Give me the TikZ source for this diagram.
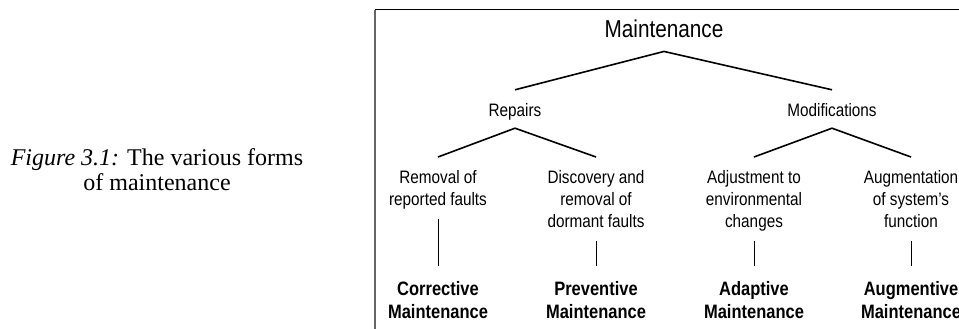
\documentclass[tikz,border=0pt]{standalone}
\usepackage{fontspec}
\setmainfont{Liberation Sans}[FakeStretch=0.85]
\newfontfamily\capfont{Liberation Serif}
\newcommand{\rs}{\rule[-4pt]{0pt}{17.5pt}}
\newcommand{\bs}{\rule[-4.5pt]{0pt}{19pt}}
\newcommand{\cs}{\rule{0pt}{17pt}}
\begin{document}
\begin{tikzpicture}[x=1pt,y=-1pt,
  rootnode/.style={inner sep=0pt,anchor=base,font={\fontsize{24.4}{27}\selectfont}},
  midnode/.style={inner sep=0pt,anchor=base,text height=13.5pt,text depth=4pt,font={\fontsize{18}{22}\selectfont}},
  leafnode/.style={inner sep=0pt,anchor=north,align=center,font={\fontsize{18}{22}\selectfont}},
  kindnode/.style={inner sep=0pt,anchor=north,align=center,font={\bfseries\fontsize{19.4}{23.5}\selectfont}},
  captext/.style={inner sep=0pt,anchor=north,align=center,font={\capfont\fontsize{24}{25}\selectfont}},
  branch/.style={line width=1.6pt},
  stem/.style={line width=1pt},
  frameline/.style={line width=1pt,black},
  frameside/.style={line width=1.8pt,black!60}]
\useasboundingbox (0,0) rectangle (959,329);

% caption
\node[captext] (caption) at (157,148) {\cs\textit{Figure 3.1:} The various forms\\ of maintenance};

% frame
\coordinate (fTL) at (375,10);
\coordinate (fTR) at (962,10);
\coordinate (fBL) at (375,332);
\draw[frameside] (fBL) -- (fTL);
\draw[frameline] (fTL) -- (fTR);

% tree
\node[rootnode] (maint) at (664,38) {Maintenance};
\node[midnode] (rep) at (515,116) {Repairs};
\node[midnode] (mod) at (832,116) {Modifications};

\node[leafnode] (l1) at (438,169.5) {\rs Removal of\\ reported faults\rs};
\node[leafnode] (l2) at (596,169.5) {\rs Discovery and\\ removal of\\ dormant faults\rs};
\node[leafnode] (l3) at (754,169.5) {\rs Adjustment to\\ environmental\\ changes\rs};
\node[leafnode] (l4) at (911,169.5) {\rs Augmentation\\ of system's\\ function\rs};

\node[kindnode] (k1) at (438,280.5) {\bs Corrective\\ Maintenance\bs};
\node[kindnode] (k2) at (596,280.5) {\bs Preventive\\ Maintenance\bs};
\node[kindnode] (k3) at (754,280.5) {\bs Adaptive\\ Maintenance\bs};
\node[kindnode] (k4) at (911,280.5) {\bs Augmentive\\ Maintenance\bs};

\draw[branch] ([yshift=12.5pt]rep.north) -- ([yshift=-13pt]maint.south) -- ([yshift=12.5pt]mod.north);
\draw[branch] ([yshift=12.5pt]l1.north) -- ([yshift=-8pt]rep.south) -- ([yshift=12.5pt]l2.north);
\draw[branch] ([yshift=12.5pt]l3.north) -- ([yshift=-8pt]mod.south) -- ([yshift=12.5pt]l4.north);

\draw[stem] ([yshift=-10pt]l1.south) -- ([yshift=14.5pt]k1.north);
\draw[stem] ([yshift=-10pt]l2.south) -- ([yshift=14.5pt]k2.north);
\draw[stem] ([yshift=-10pt]l3.south) -- ([yshift=14.5pt]k3.north);
\draw[stem] ([yshift=-10pt]l4.south) -- ([yshift=14.5pt]k4.north);
\end{tikzpicture}
\end{document}
